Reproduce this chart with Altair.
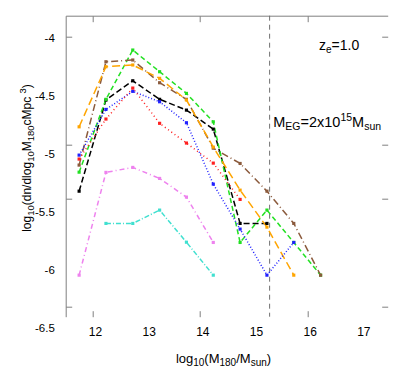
import altair as alt
import pandas as pd

# ---- data ----
x_bins = [11.75, 12.25, 12.75, 13.25, 13.75, 14.25, 14.75, 15.25, 15.75, 16.25]
N = None
black = [-5.318, -4.532, -4.366, -4.526, -4.619, -4.783, -5.596, -5.596, N, N]
green = [-5.154, -4.526, -4.101, -4.288, -4.475, -4.720, -5.760, -5.481, -5.760, -6.042]
brown = [-5.093, -4.202, -4.187, -4.383, -4.526, -4.947, -5.079, -5.318, -5.596, -6.042]
orange = [-4.763, -4.245, -4.230, -4.345, -4.532, -4.938, -5.309, -5.628, -6.042, N]
blue = [-5.007, -4.613, -4.457, -4.547, -4.728, -5.257, -5.645, -6.042, -5.760, N]
red = [-5.041, -4.696, -4.429, -4.733, -4.903, -5.076, -5.389, N, N, N]
violet = [-6.042, -5.156, -5.113, -5.208, -5.369, -5.760, N, N, N, N]
turquoise = [N, -5.596, -5.596, -5.481, -5.758, -6.042, N, N, N, N]

series_names = ["black", "green", "brown", "orange", "blue", "red", "violet", "turquoise"]
series_values = [black, green, brown, orange, blue, red, violet, turquoise]
series_colors = ["#000000", "#22e022", "#8b5a3c", "#ffa500", "#2020ff", "#ff2020", "#ee82ee", "#40e0d0"]
series_dashes = [[6, 3], [5, 3], [7, 3, 1, 3], [8, 4], [1, 2], [1, 3], [5, 3, 1, 3], [5, 2, 1, 2]]

x_label_vals = [12, 13, 14, 15, 16, 17]
y_label_vals = [-4, -4.5, -5, -5.5, -6, -6.5]
x_tick_marks = [12, 14, 16]
y_tick_marks = [-3.99, -4.92, -5.38, -6.31]
m_eg_line = [15.30]

rows = []
for name, vals in zip(series_names, series_values):
    for xv, yv in zip(x_bins, vals):
        if yv is not None:
            rows.append({"series": name, "x": xv, "y": yv})
df = pd.DataFrame(rows)

W, H = 322, 301
Y_DOM = [-6.40, -3.805]
LAB_SHIFT = 0.15
xs = alt.Scale(domain=[11.5, 17.5], nice=False, zero=False)
ys = alt.Scale(domain=Y_DOM, nice=False, zero=False)
AX = "#808080"
FONT = "Liberation Sans"

color_enc = alt.Color("series:N", scale=alt.Scale(domain=series_names, range=series_colors), legend=None)
dash_enc = alt.StrokeDash("series:N", scale=alt.Scale(domain=series_names, range=series_dashes), legend=None)

lines = alt.Chart(df).mark_line(strokeWidth=1.5).encode(
    x=alt.X("x:Q", scale=xs, axis=alt.Axis(
        orient="bottom", values=x_label_vals, ticks=False, tickSize=0, domain=False, grid=False,
        labelPadding=10, labelOffset=2.5, labelFontSize=12, labelFont=FONT, labelColor="black",
        labelFlush=False, format="d", title=None)),
    y=alt.Y("y:Q", scale=ys, axis=alt.Axis(
        orient="left", values=[v + LAB_SHIFT for v in y_label_vals],
        labelExpr="'' + round((datum.value - 0.15) * 10) / 10",
        labelOffset=LAB_SHIFT * H / (Y_DOM[1] - Y_DOM[0]), ticks=False, tickSize=0,
        domain=True, domainColor=AX, domainWidth=1, grid=False,
        labelPadding=11.4, labelFontSize=11.5, labelFont=FONT, labelColor="black", labelFlush=False,
        title=None)),
    color=color_enc,
    strokeDash=dash_enc,
    order="x:Q",
)

points = alt.Chart(df).mark_square(size=10, opacity=1).encode(
    x=alt.X("x:Q", scale=xs, axis=None),
    y=alt.Y("y:Q", scale=ys, axis=None),
    color=color_enc,
)

vline = alt.Chart(pd.DataFrame({"m": m_eg_line})).mark_rule(
    color="#707070", strokeWidth=1, strokeDash=[5, 4]
).encode(x=alt.X("m:Q", scale=xs, axis=None))

ticks_a = alt.Chart(df).mark_point(opacity=0).encode(
    x=alt.X("x:Q", scale=xs, axis=alt.Axis(
        orient="bottom", offset=-H, values=x_tick_marks, labels=False, ticks=True, tickSize=6,
        tickColor=AX, domain=True, domainColor=AX, grid=False, title=None)),
    y=alt.Y("y:Q", scale=ys, axis=alt.Axis(
        orient="right", offset=-W, values=y_tick_marks, labels=False, ticks=True, tickSize=6,
        tickColor=AX, domain=False, grid=False, title=None)),
)

ticks_b = alt.Chart(df).mark_point(opacity=0).encode(
    x=alt.X("x:Q", scale=xs, axis=alt.Axis(
        orient="top", offset=-H, values=x_tick_marks, labels=False, ticks=True, tickSize=6,
        tickColor=AX, domain=False, grid=False, title=None)),
    y=alt.Y("y:Q", scale=ys, axis=alt.Axis(
        orient="left", offset=-W, values=y_tick_marks, labels=False, ticks=True, tickSize=6,
        tickColor=AX, domain=False, grid=False, title=None)),
)

# ---- rich text (sub/superscripts) built from pieces ----
EM = {"a": .556, "b": .556, "c": .5, "d": .556, "e": .556, "g": .556, "l": .222, "M": .833,
      "n": .556, "o": .556, "p": .556, "s": .5, "u": .556, "z": .5, "E": .667, "G": .778,
      "x": .5, "=": .584, ".": .278, "(": .333, ")": .333, "/": .278, " ": .278}


def text_width(s, size):
    return sum(EM.get(ch, .556) for ch in s) * size


one = pd.DataFrame({"a": [0]})


def rich(pieces, x0, y0, angle=0, center=False):
    """pieces: (text, font size, baseline shift); laid out left to right (upward if angle=270)."""
    total = sum(text_width(t, s) for t, s, _ in pieces)
    pos = -total / 2 if center else 0.0
    out = []
    for t, s, shift in pieces:
        if angle == 0:
            px, py = x0 + pos, y0 + shift
        else:
            px, py = x0 + shift, y0 - pos
        mk = dict(text=t, align="left", baseline="alphabetic", font=FONT, fontSize=s, color="black")
        if angle:
            mk["angle"] = angle
        out.append(alt.Chart(one).mark_text(**mk).encode(x=alt.value(px), y=alt.value(py)))
        pos += text_width(t, s)
    return out


y_title = rich([("log", 12, 0), ("10", 9.5, 3), ("(dn/dlog", 12, 0), ("10", 9.5, 3), ("M", 12, 0),
                ("180", 9.5, 3), (" cMpc", 12, 0), ("3", 9.5, -5), (")", 12, 0)],
               -34.7, 142.3, angle=270, center=True)
x_title = rich([("log", 13, 0), ("10", 10, 3), ("(M", 13, 0), ("180", 10, 3), ("/M", 13, 0),
                ("sun", 10, 3), (")", 13, 0)], 157.8, 347.6, center=True)
z_label = rich([("z", 14, 0), ("e", 10, 3), ("=1.0", 14, 0)], 253.3, 34.3)
m_label = rich([("M", 14.5, 0), ("EG", 10.5, 3), ("=2x10", 14.5, 0), ("15", 10.5, -6),
                ("M", 14.5, 0), ("sun", 10.5, 3)], 207.6, 111)

chart = alt.layer(vline, lines, points, ticks_a, ticks_b,
                  *y_title, *x_title, *z_label, *m_label).resolve_axis(
    x="independent", y="independent"
).properties(
    width=W, height=H,
    autosize=alt.AutoSizeParams(type="none"),
    padding={"left": 57.7, "top": 7.7, "right": 15, "bottom": 57},
).configure_view(stroke=None)

chart.save("out.html", embed_options={"renderer": "svg", "actions": False})
